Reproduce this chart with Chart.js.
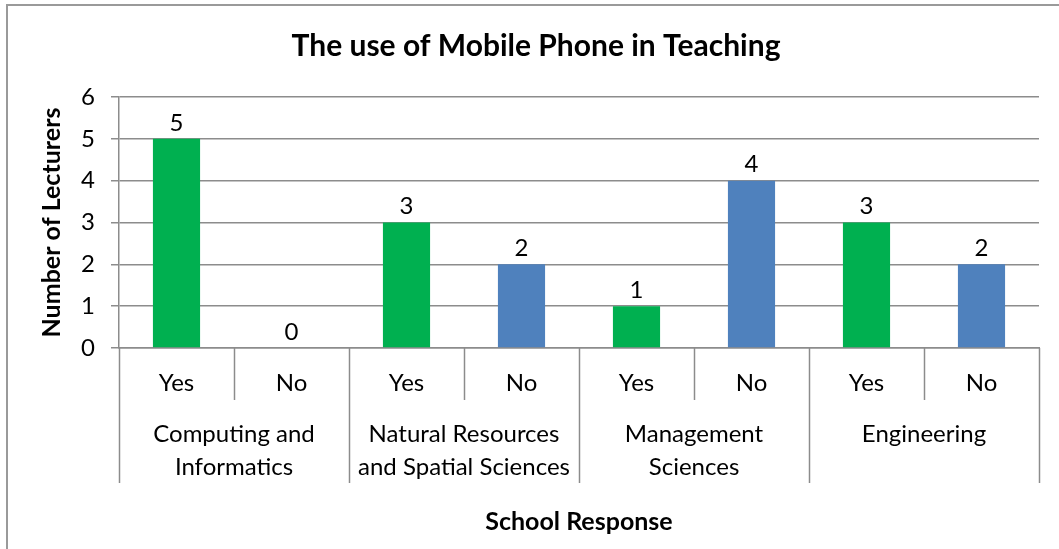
<!DOCTYPE html>
<html>
<head>
<meta charset="utf-8">
<script src="https://cdn.jsdelivr.net/npm/chart.js@4/dist/chart.umd.min.js"></script>
<style>
  html, body { margin: 0; padding: 0; background: #fff; }
  #wrap { width: 1059px; height: 549px; position: relative; }
</style>
</head>
<body>
<div id="wrap"><canvas id="c" width="1059" height="549"></canvas></div>
<script>
// Responses per school: a "Yes" bar and a "No" bar for each
const responses = ['Yes', 'No', 'Yes', 'No', 'Yes', 'No', 'Yes', 'No'];
const lecturers = [5, 0, 3, 2, 1, 4, 3, 2];
const schools = [
  ['Computing and', 'Informatics'],
  ['Natural Resources', 'and Spatial Sciences'],
  ['Management', 'Sciences'],
  ['Engineering']
];
const yTicks = [0, 1, 2, 3, 4, 5, 6];

const GREEN = '#00B050';
const BLUE = '#4F81BD';
const LINE = '#8c8c8c';
const FONT = 'Lato, "Open Sans", sans-serif';
const TEXT_SIZE = 24;

const barColors = responses.map(r => (r === 'Yes' ? GREEN : BLUE));

// Frame, title, value labels, category dividers and school names
const decor = {
  id: 'decor',
  beforeDraw(chart) {
    const ctx = chart.ctx;
    ctx.save();
    ctx.fillStyle = '#fff';
    ctx.fillRect(0, 0, chart.width, chart.height);
    ctx.strokeStyle = '#9a9a9a';
    ctx.lineWidth = 2;
    ctx.beginPath();
    ctx.moveTo(7, chart.height);
    ctx.lineTo(7, 5);
    ctx.lineTo(chart.width, 5);
    ctx.stroke();
    ctx.restore();
  },
  afterDraw(chart) {
    const ctx = chart.ctx;
    const x = chart.scales.x;
    const area = chart.chartArea;
    ctx.save();

    // chart title
    ctx.fillStyle = '#000';
    ctx.font = 'bold 30px ' + FONT;
    ctx.textAlign = 'center';
    ctx.textBaseline = 'middle';
    ctx.fillText('The use of Mobile Phone in Teaching', 536, 46);

    // value labels above the bars
    ctx.font = TEXT_SIZE + 'px ' + FONT;
    ctx.textBaseline = 'bottom';
    const meta = chart.getDatasetMeta(0);
    meta.data.forEach((bar, i) => {
      ctx.fillText(String(lecturers[i]), bar.x, bar.y - 4);
    });

    // category dividers below the axis
    const n = responses.length;
    const step = (x.right - x.left) / n;
    ctx.strokeStyle = LINE;
    ctx.lineWidth = 1.5;
    for (let k = 0; k <= n; k++) {
      const px = Math.round(x.left + k * step) + 0.5;
      const isGroupEdge = k % 2 === 0;
      ctx.beginPath();
      ctx.moveTo(px, area.bottom);
      ctx.lineTo(px, isGroupEdge ? 483 : 400);
      ctx.stroke();
    }

    // school names centred under each pair of bars
    ctx.fillStyle = '#000';
    ctx.font = TEXT_SIZE + 'px ' + FONT;
    ctx.textBaseline = 'middle';
    schools.forEach((lines, g) => {
      const cx = (x.getPixelForValue(2 * g) + x.getPixelForValue(2 * g + 1)) / 2;
      lines.forEach((t, li) => ctx.fillText(t, cx, 434 + li * 33));
    });
    ctx.restore();
  }
};

new Chart(document.getElementById('c'), {
  type: 'bar',
  data: {
    labels: responses,
    datasets: [{
      data: lecturers,
      backgroundColor: barColors,
      borderWidth: 0,
      barPercentage: 0.41,
      categoryPercentage: 1
    }]
  },
  options: {
    responsive: false,
    animation: false,
    events: [],
    layout: { padding: { top: 97, right: 20, bottom: 0, left: 0 } },
    plugins: {
      legend: { display: false },
      tooltip: { enabled: false },
      title: { display: false }
    },
    scales: {
      x: {
        afterFit(scale) { scale.height = 201; },
        grid: { display: false, drawTicks: false },
        border: { display: true, color: LINE, width: 1.5 },
        ticks: {
          color: '#000',
          font: { family: FONT, size: TEXT_SIZE },
          padding: 21,
          maxRotation: 0,
          autoSkip: false
        },
        title: {
          display: true,
          text: 'School Response',
          color: '#000',
          font: { family: FONT, size: 25, weight: 'bold' },
          padding: { top: 0, bottom: 12 }
        }
      },
      y: {
        min: 0,
        max: 6,
        afterFit(scale) { scale.width = 119; },
        afterBuildTicks(scale) { scale.ticks = yTicks.map(v => ({ value: v })); },
        grid: { color: LINE, lineWidth: 1.5, tickLength: 8, drawTicks: true },
        border: { display: true, color: LINE, width: 1.5 },
        ticks: {
          color: '#000',
          font: { family: FONT, size: TEXT_SIZE },
          padding: 16
        },
        title: {
          display: true,
          text: 'Number of Lecturers',
          color: '#000',
          font: { family: FONT, size: 25, weight: 'bold' },
          padding: { top: 37, bottom: 0 }
        }
      }
    }
  },
  plugins: [decor]
});
</script>
</body>
</html>
